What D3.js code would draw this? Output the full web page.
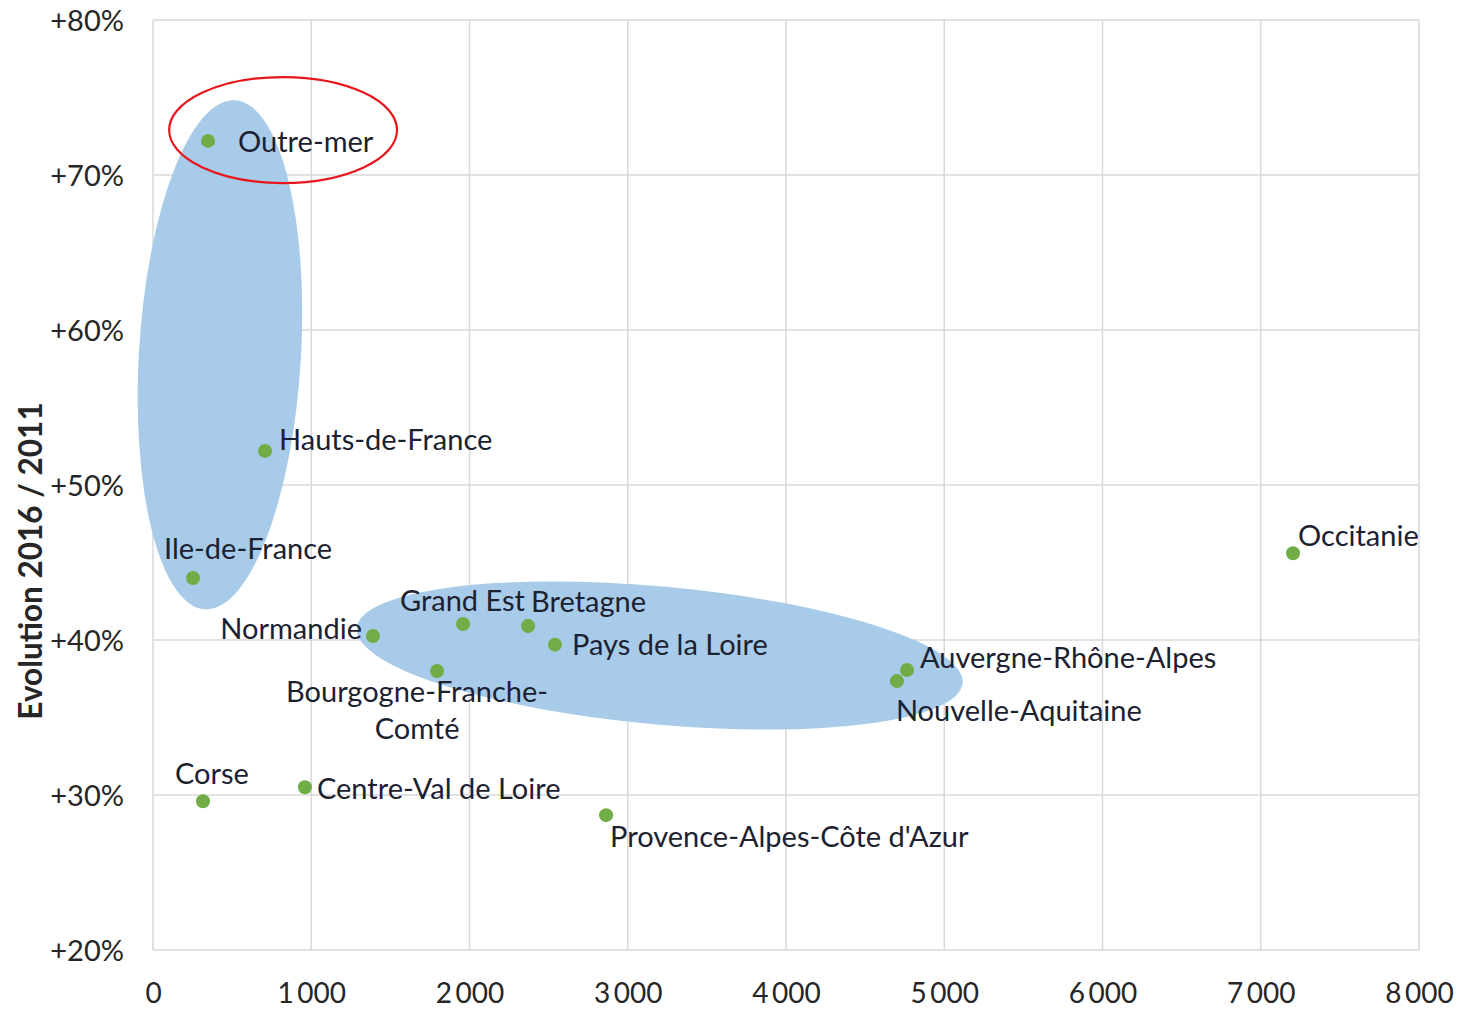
<!DOCTYPE html>
<html>
<head>
<meta charset="utf-8">
<script src="https://cdn.jsdelivr.net/npm/d3@7"></script>
<style>
  body { margin: 0; background: #fff; }
  text { font-family: Lato, "Open Sans", sans-serif; }
</style>
</head>
<body>
<svg id="chart" width="1465" height="1009"></svg>
<script>
// regions, x = count, y = evolution 2016/2011 in %
var regions = ["Outre-mer", "Hauts-de-France", "Ile-de-France", "Normandie", "Grand Est",
  "Bretagne", "Pays de la Loire", "Bourgogne-Franche-\nComté", "Auvergne-Rhône-Alpes",
  "Nouvelle-Aquitaine", "Occitanie", "Corse", "Centre-Val de Loire", "Provence-Alpes-Côte d'Azur"]
var counts = [348, 708, 253, 1390, 1959, 2370, 2540, 1795, 4765, 4701, 7204, 316, 960, 2863]
var evolution = [72.2, 52.2, 44.0, 40.26, 41.03, 40.9, 39.7, 38.0, 38.06, 37.35, 45.6, 29.6, 30.5, 28.7]

var xTicks = [0, 1000, 2000, 3000, 4000, 5000, 6000, 7000, 8000]
var yTicks = [20, 30, 40, 50, 60, 70, 80]

// highlighted groups (data units): cx, cy, rx, ry, angle
var groups = [
  {cx: 423, cy: 58.4, rx: 512, ry: 16.45, angle: 3.4, kind: "fill"},
  {cx: 3202, cy: 39.0, rx: 1922, ry: 4.45, angle: 5.2, kind: "fill"},
  {cx: 822, cy: 72.9, rx: 720, ry: 3.42, angle: 0, kind: "ring"}
]

// label placement, pixels from the point
var labelPos = [
  [30, 11, "start"], [14, -1, "start"], [-29, -19, "start"], [-11, 3, "end"], [-63, -13, "start"],
  [3, -14, "start"], [17, 10, "start"], [-20, 31, "middle"], [13, -2, "start"],
  [-1, 40, "start"], [5, -7, "start"], [-28, -17, "start"], [12, 12, "start"], [4, 32, "start"]
]

var margin = {left: 153, right: 46, top: 20, bottom: 59}
var W = 1465, H = 1009
var svg = d3.select("#chart")

var x = d3.scaleLinear().domain([0, 8000]).range([margin.left, W - margin.right])
var y = d3.scaleLinear().domain([20, 80]).range([H - margin.bottom, margin.top])

var fr = d3.formatLocale({decimal: ",", thousands: "\u2009", grouping: [3], currency: ["", "€"]})
var fmtX = fr.format(",d")

// grid
var grid = svg.append("g")
grid.selectAll(".gx").data(xTicks).enter().append("line")
  .attr("x1", d => x(d)).attr("x2", d => x(d))
  .attr("y1", y(20)).attr("y2", y(80))
  .attr("stroke", "#d9d9d9").attr("stroke-width", 1.5)
grid.selectAll(".gy").data(yTicks).enter().append("line")
  .attr("x1", x(0)).attr("x2", x(8000))
  .attr("y1", d => y(d)).attr("y2", d => y(d))
  .attr("stroke", "#d9d9d9").attr("stroke-width", 1.5)

// ellipses
var kx = x(1) - x(0), ky = y(0) - y(1)
svg.append("g").selectAll("ellipse").data(groups).enter().append("ellipse")
  .attr("transform", d => "translate(" + x(d.cx) + "," + y(d.cy) + ") rotate(" + d.angle + ")")
  .attr("rx", d => d.rx * kx).attr("ry", d => d.ry * ky)
  .attr("fill", d => d.kind == "fill" ? "#a7cbe8" : "none")
  .attr("stroke", d => d.kind == "fill" ? "none" : "#e8161b")
  .attr("stroke-width", 2.2)

// axes
var xAxis = svg.append("g").attr("transform", "translate(0," + (y(20) + 50) + ")")
  .call(d3.axisBottom(x).tickValues(xTicks).tickFormat(fmtX).tickSize(0))
xAxis.select(".domain").remove()
xAxis.selectAll("text").attr("font-size", 28).attr("fill", "#262626")
  .attr("font-family", "Lato, 'Open Sans', sans-serif").attr("dy", "0")

var yAxis = svg.append("g").attr("transform", "translate(" + (x(0) - 29) + ",0)")
  .call(d3.axisLeft(y).tickValues(yTicks).tickFormat(d => "+" + d + "%").tickSize(0))
yAxis.select(".domain").remove()
yAxis.selectAll("text").attr("font-size", 29).attr("fill", "#262626")
  .attr("font-family", "Lato, 'Open Sans', sans-serif").attr("dy", "0.35em").attr("x", 0)

svg.append("text")
  .attr("transform", "translate(42," + (y(50) + 76) + ") rotate(-90)")
  .attr("text-anchor", "middle")
  .attr("font-size", 31.5).attr("font-weight", "bold").attr("fill", "#262626")
  .text("Evolution 2016 / 2011")

// points
var pts = regions.map((r, i) => ({name: r, c: counts[i], e: evolution[i], pos: labelPos[i]}))
svg.append("g").selectAll("circle").data(pts).enter().append("circle")
  .attr("cx", d => x(d.c)).attr("cy", d => y(d.e)).attr("r", 7)
  .attr("fill", "#70ad47")

var lab = svg.append("g").selectAll("text").data(pts).enter().append("text")
  .attr("x", d => x(d.c) + d.pos[0]).attr("y", d => y(d.e) + d.pos[1])
  .attr("text-anchor", d => d.pos[2])
  .attr("font-size", 29).attr("fill", "#1c2130")
lab.each(function(d) {
  var t = d3.select(this)
  d.name.split("\n").forEach(function(line, j) {
    t.append("tspan").attr("x", x(d.c) + d.pos[0]).attr("dy", j ? 37 : 0).text(line)
  })
})
</script>
</body>
</html>
